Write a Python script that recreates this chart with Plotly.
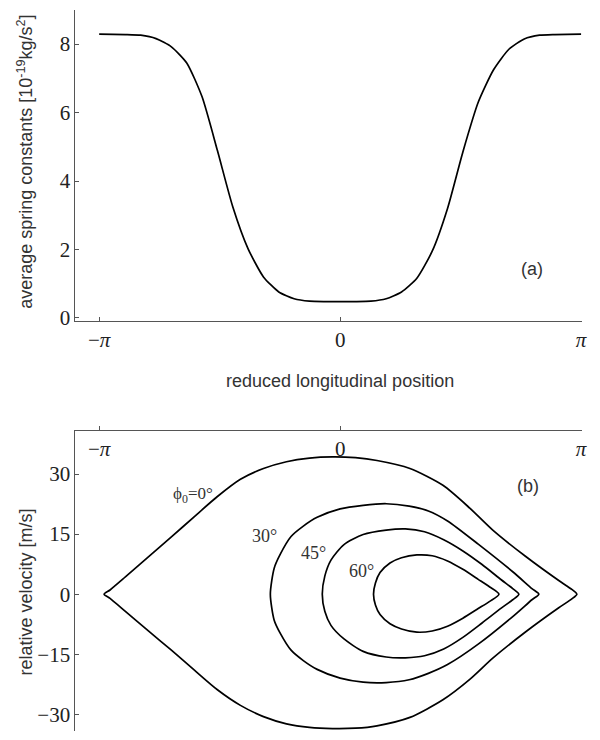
import plotly.graph_objects as go
import numpy as np

# ---------- panel (a): average spring constants ----------
k_x = [-3.1416, -2.8, -2.6, -2.4, -2.2, -2.0, -1.8, -1.6, -1.4, -1.2, -1.0, -0.8, -0.6, -0.4, -0.2, 0.0,
       0.2, 0.4, 0.6, 0.8, 1.0, 1.2, 1.4, 1.6, 1.8, 2.0, 2.2, 2.4, 2.6, 2.8, 3.1416]
k_val = [8.29, 8.28, 8.26, 8.16, 7.92, 7.45, 6.46, 4.89, 3.25, 2.02, 1.20, 0.76, 0.56, 0.49, 0.48, 0.48,
         0.48, 0.49, 0.56, 0.76, 1.16, 1.95, 3.20, 4.85, 6.30, 7.25, 7.85, 8.15, 8.26, 8.28, 8.29]

# ---------- panel (b): phase-space contours ----------
c0_xu = [-3.077, -3.00, -2.80, -2.50, -2.20, -1.90, -1.60, -1.30, -1.00, -0.70, -0.40, -0.10, 0.20, 0.48,
         0.91, 1.34, 1.69, 1.99, 2.42, 2.85, 3.02, 3.086]
c0_vu = [0.0, 1.05, 4.3, 9.3, 14.3, 19.4, 24.4, 28.7, 31.4, 33.1, 34.0, 34.3, 34.1, 33.4,
         31.4, 27.2, 21.5, 16.0, 9.4, 3.4, 1.2, 0.0]
c0_xl = [3.086, 3.02, 2.85, 2.42, 1.99, 1.69, 1.34, 0.91, 0.48, 0.20, -0.10, -0.40, -0.70, -1.00,
         -1.30, -1.60, -1.90, -2.20, -2.50, -2.80, -3.00, -3.077]
c0_vl = [0.0, -1.2, -3.4, -9.4, -16.0, -21.3, -26.4, -30.8, -32.9, -33.5, -33.6, -33.3, -32.4, -30.6,
         -27.8, -23.9, -19.0, -14.0, -9.2, -4.3, -1.05, 0.0]

c30_xu = [-0.91, -0.86, -0.78, -0.64, -0.48, -0.30, 0.00, 0.30, 0.60, 0.90, 1.15, 1.40, 1.80, 2.25, 2.50, 2.59]
c30_vu = [0.0, 6.5, 10.0, 14.4, 17.0, 19.2, 21.3, 22.2, 22.6, 22.0, 20.8, 18.3, 12.5, 5.6, 1.4, 0.0]
c30_xl = [2.59, 2.50, 2.25, 1.80, 1.40, 1.15, 0.90, 0.60, 0.30, 0.00, -0.30, -0.48, -0.64, -0.78, -0.86, -0.91]
c30_vl = [0.0, -1.4, -5.6, -12.5, -17.6, -19.8, -21.4, -22.1, -22.0, -21.0, -18.8, -16.6, -14.0, -9.8, -6.5, 0.0]

c45_xu = [-0.233, -0.20, -0.12, 0.05, 0.30, 0.60, 0.85, 1.10, 1.35, 1.60, 1.85, 2.10, 2.25, 2.33]
c45_vu = [0.0, 4.5, 8.5, 12.4, 14.9, 16.0, 16.3, 15.6, 13.6, 10.8, 7.4, 3.6, 1.4, 0.0]
c45_xl = [2.33, 2.25, 2.10, 1.85, 1.60, 1.35, 1.10, 0.85, 0.60, 0.30, 0.05, -0.12, -0.20, -0.233]
c45_vl = [0.0, -1.4, -3.5, -7.2, -10.8, -13.7, -15.4, -15.9, -15.7, -14.3, -11.2, -7.8, -4.3, 0.0]

c60_xu = [0.435, 0.46, 0.52, 0.65, 0.80, 1.00, 1.20, 1.40, 1.60, 1.80, 1.95, 2.07]
c60_vu = [0.0, 2.8, 5.4, 7.8, 9.1, 9.8, 9.6, 8.3, 6.2, 3.7, 1.8, 0.0]
c60_xl = [2.07, 1.95, 1.80, 1.60, 1.40, 1.20, 1.00, 0.80, 0.65, 0.52, 0.46, 0.435]
c60_vl = [0.0, -1.8, -3.6, -6.0, -8.0, -9.2, -9.5, -8.7, -7.4, -5.1, -2.7, 0.0]

pi_ticks = [-np.pi, 0, np.pi]
pi_text = ["\u2212<i>\u03c0</i>", "0", "<i>\u03c0</i>"]
a_yticks = [0, 2, 4, 6, 8]
b_yticks = [-30, -15, 0, 15, 30]
b_ytext = ["\u221230", "\u221215", "0", "15", "30"]

SERIF = "Liberation Serif, Times New Roman, serif"
SANS = "Liberation Sans, Arial, sans-serif"
LINE = dict(color="black", width=1.7)

fig = go.Figure()
fig.add_trace(go.Scatter(x=k_x, y=k_val, mode="lines", line=dict(shape="spline", smoothing=0.6, **LINE),
                         xaxis="x", yaxis="y", showlegend=False, hoverinfo="skip"))

for xu, vu, xl, vl in [(c0_xu, c0_vu, c0_xl, c0_vl), (c30_xu, c30_vu, c30_xl, c30_vl),
                       (c45_xu, c45_vu, c45_xl, c45_vl), (c60_xu, c60_vu, c60_xl, c60_vl)]:
    fig.add_trace(go.Scatter(x=xu + xl[1:], y=vu + vl[1:], mode="lines",
                             line=dict(shape="spline", smoothing=0.7, **LINE),
                             xaxis="x2", yaxis="y2", showlegend=False, hoverinfo="skip"))

xdom = [76 / 600, 586.5 / 600]
xr = [-3.452, 3.148]
common_axis = dict(showgrid=False, zeroline=False, showline=True, linecolor="#555", linewidth=1,
                   tickcolor="#555", ticklen=4, tickwidth=1,
                   tickfont=dict(family=SERIF, size=21, color="#222"))

fig.update_layout(
    width=600, height=740, margin=dict(l=0, r=0, t=0, b=0),
    paper_bgcolor="white", plot_bgcolor="white",
    xaxis=dict(domain=xdom, range=xr, anchor="y", tickvals=pi_ticks, ticktext=pi_text,
               ticks="inside", side="bottom", **common_axis),
    yaxis=dict(domain=[1 - 325 / 740, 1 - 10 / 740], range=[-0.09, 9.0], anchor="x",
               tickvals=a_yticks, ticks="inside", **common_axis),
    # panel (b): axis line sits on top of the panel, labels below it, ticks pointing up
    xaxis2=dict(domain=xdom, range=xr, anchor="free", position=1 - 435 / 740,
                tickvals=pi_ticks, ticktext=pi_text, ticks="inside", side="bottom", **common_axis),
    yaxis2=dict(domain=[0, 1 - 435 / 740], range=[-34.2, 41.1], anchor="x2",
                tickvals=b_yticks, ticktext=b_ytext, ticks="inside", **common_axis),
)

def ann(text, px, py, size, family, color="#333", angle=0):
    fig.add_annotation(text=text, x=px / 600, y=1 - py / 740, xref="paper", yref="paper",
                       showarrow=False, textangle=angle, xanchor="center", yanchor="middle",
                       font=dict(family=family, size=size, color=color))

ann("average spring constants [10<sup>-19</sup>kg/s<sup>2</sup>]", 25, 164, 18, SANS, angle=-90)
ann("reduced longitudinal position", 343, 386, 18, SANS)
ann("relative velocity [m/s]", 26, 599, 18, SANS, angle=-90)
ann("(a)", 536, 272, 18, SANS)
ann("(b)", 532, 492, 18, SANS)
ann("\u03d5<sub>0</sub>=0\u00b0", 195, 501, 17, SERIF)
ann("30\u00b0", 267, 543, 18, SERIF)
ann("45\u00b0", 316, 560, 18, SERIF)
ann("60\u00b0", 365, 578, 18, SERIF)

fig.write_html("out.html", config={"displayModeBar": False},
               post_script="document.body.style.margin='0';document.body.style.overflow='hidden';")
